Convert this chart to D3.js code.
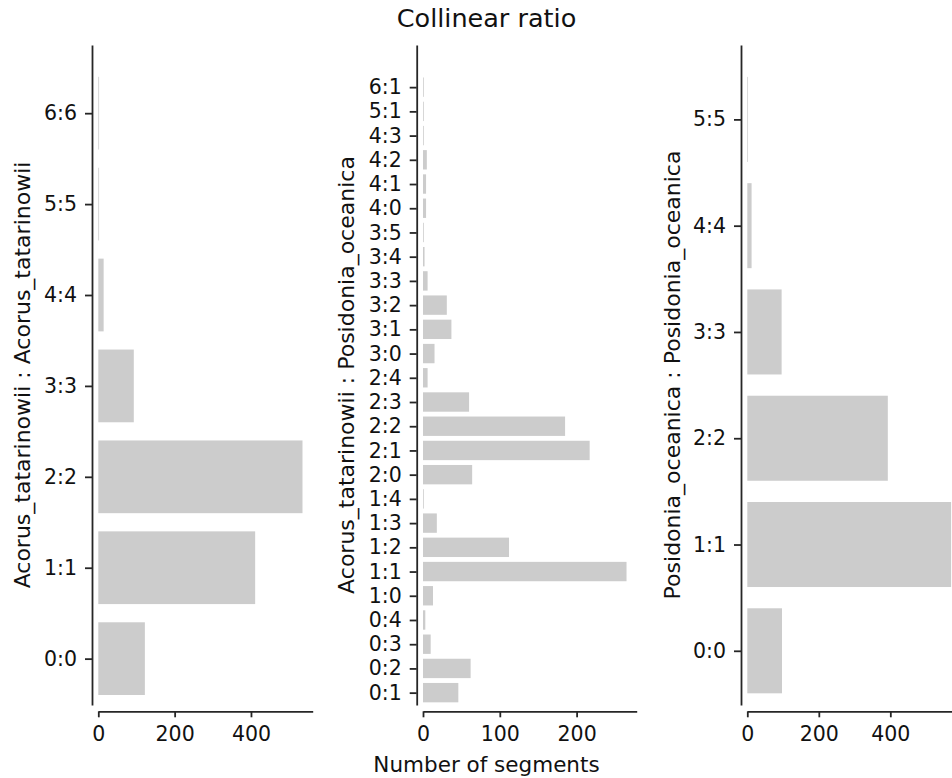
<!DOCTYPE html>
<html>
<head>
<meta charset="utf-8">
<title>Collinear ratio</title>
<script src="https://cdn.jsdelivr.net/npm/d3@7"></script>
<style>
  body { margin: 0; background: #fff; }
  text { font-family: "DejaVu Sans", sans-serif; fill: #111; }
  .axis path, .axis line { stroke: #262626; stroke-width: 1.8; }
</style>
</head>
<body>
<script>
// data
var leftCats = ["0:0", "1:1", "2:2", "3:3", "4:4", "5:5", "6:6"];
var leftVals = [122, 411, 535, 93, 14, 2, 2];

var midCats = ["0:1", "0:2", "0:3", "0:4", "1:0", "1:1", "1:2", "1:3", "1:4",
  "2:0", "2:1", "2:2", "2:3", "2:4", "3:0", "3:1", "3:2", "3:3", "3:4", "3:5",
  "4:0", "4:1", "4:2", "4:3", "5:1", "6:1"];
var midVals = [46, 62, 10, 3, 13, 265, 112, 18, 1, 64, 217, 185, 60, 6, 15, 37,
  31, 6, 2, 1, 4, 4, 5, 1, 1, 1];

var rightCats = ["0:0", "1:1", "2:2", "3:3", "4:4", "5:5"];
var rightVals = [97, 570, 393, 96, 12, 2];

var yLabels = ["Acorus_tatarinowii : Acorus_tatarinowii",
  "Acorus_tatarinowii : Posidonia_oceanica",
  "Posidonia_oceanica : Posidonia_oceanica"];

// layout of the three panels
var panels = [
  { cats: leftCats, vals: leftVals, label: yLabels[0], x0: 98.3, x1: 312.7, ytop: 6.75, labelX: 30 },
  { cats: midCats, vals: midVals, label: yLabels[1], x0: 423, x1: 636.7, ytop: 26.74, labelX: 354 },
  { cats: rightCats, vals: rightVals, label: yLabels[2], x0: 747.3, x1: 961.3, ytop: 5.70, labelX: 680 }
];

var width = 952, height = 778;
var top_ = 45, bottom = 705, offset = 6.3;

var svg = d3.select("body").append("svg")
  .attr("width", width)
  .attr("height", height);

svg.append("text")
  .attr("x", 486.5)
  .attr("y", 27)
  .attr("text-anchor", "middle")
  .attr("font-size", 25.5)
  .text("Collinear ratio");

panels.forEach(function (p) {
  var x = d3.scaleLinear()
    .domain([0, d3.max(p.vals) * 1.05])
    .range([p.x0, p.x1]);
  var y = d3.scaleLinear()
    .domain([-0.51, p.ytop])
    .range([bottom, top_]);
  var bh = Math.abs(y(0.4) - y(-0.4));

  var g = svg.append("g");

  g.selectAll("rect")
    .data(p.vals)
    .join("rect")
    .attr("x", x(0))
    .attr("y", (d, i) => y(i) - bh / 2)
    .attr("width", d => x(d) - x(0))
    .attr("height", bh)
    .attr("fill", "#cccccc");

  // y axis, pushed out a bit
  var ya = g.append("g")
    .attr("class", "axis")
    .attr("transform", `translate(${p.x0 - offset},0)`)
    .call(d3.axisLeft(y)
      .tickValues(d3.range(p.cats.length))
      .tickFormat(i => p.cats[i])
      .tickSize(7)
      .tickSizeOuter(0)
      .tickPadding(8));
  ya.selectAll("text").attr("font-size", 20.5).attr("fill", "#111");

  // x axis
  var xa = g.append("g")
    .attr("class", "axis")
    .attr("transform", `translate(0,${bottom + offset})`)
    .call(d3.axisBottom(x)
      .ticks(3)
      .tickSize(6)
      .tickSizeOuter(0)
      .tickPadding(9));
  xa.selectAll("text").attr("font-size", 20.5).attr("fill", "#111");

  g.append("text")
    .attr("transform", `translate(${p.labelX},${(top_ + bottom) / 2}) rotate(-90)`)
    .attr("text-anchor", "middle")
    .attr("font-size", 22)
    .text(p.label);
});

svg.append("text")
  .attr("x", 486.5)
  .attr("y", 772)
  .attr("text-anchor", "middle")
  .attr("font-size", 21.5)
  .text("Number of segments");
</script>
</body>
</html>
